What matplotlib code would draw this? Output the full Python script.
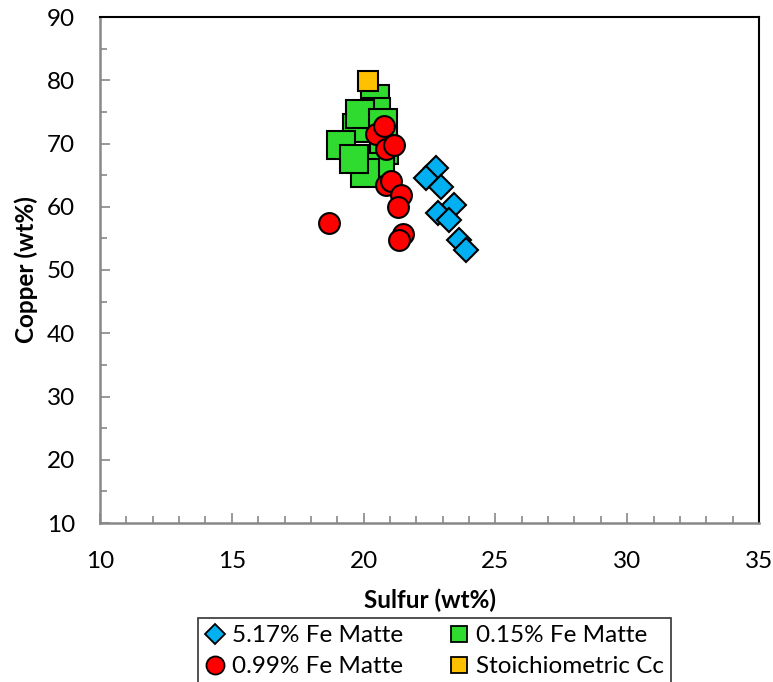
import matplotlib
matplotlib.use("Agg")
import matplotlib.pyplot as plt
from matplotlib.lines import Line2D
from matplotlib.ticker import MultipleLocator

plt.rcParams["font.family"] = ["Lato", "DejaVu Sans"]

# --- matte compositions (wt%) ---
s_517 = [22.75, 22.37, 22.94, 23.44, 22.81, 23.25, 23.63, 23.89]
cu_517 = [66.1, 64.5, 63.2, 60.3, 59.0, 57.9, 54.7, 53.2]

s_015 = [20.43, 20.46, 19.76, 19.86, 20.74, 20.77, 19.16, 20.62, 20.06, 19.65]
cu_015 = [77.1, 75.0, 72.4, 74.7, 73.2, 69.0, 69.8, 66.3, 65.3, 67.5]

s_099 = [20.46, 20.78, 20.84, 21.14, 20.84, 21.04, 21.42, 21.29, 18.69, 21.48, 21.36]
cu_099 = [71.5, 72.7, 69.2, 69.8, 63.4, 64.0, 61.9, 60.0, 57.4, 55.7, 54.7]

s_cc = [20.15]
cu_cc = [79.85]

labels = ["5.17% Fe Matte", "0.15% Fe Matte", "0.99% Fe Matte", "Stoichiometric Cc"]

fig = plt.figure(figsize=(7.73, 6.82), dpi=100)
ax = fig.add_axes([100 / 773, 1 - 523 / 682, 659 / 773, 506 / 682])

ax.plot(s_517, cu_517, "D", ms=12, mfc="#00B0F0", mec="black", mew=1.5, ls="none", zorder=3)
ax.plot(s_015, cu_015, "s", ms=20, mfc="#2EDB2E", mec="black", mew=1.5, ls="none", zorder=3)
ax.plot(s_099, cu_099, "o", ms=15, mfc="#FF0000", mec="black", mew=1.5, ls="none", zorder=4)
ax.plot(s_cc, cu_cc, "s", ms=15, mfc="#FFC000", mec="black", mew=1.5, ls="none", zorder=5)

ax.set_xlim(10, 35)
ax.set_ylim(10, 90)
ax.xaxis.set_major_locator(MultipleLocator(5))
ax.xaxis.set_minor_locator(MultipleLocator(1))
ax.yaxis.set_major_locator(MultipleLocator(10))
ax.yaxis.set_minor_locator(MultipleLocator(5))
ax.tick_params(which="both", direction="in", color="#888888", width=1.2,
               top=False, right=False, labelsize=17.5)
ax.tick_params(axis="x", pad=20)
ax.tick_params(axis="y", pad=18)
ax.tick_params(which="major", length=7)
ax.tick_params(which="minor", length=5)

for side in ["left", "bottom"]:
    ax.spines[side].set_color("#888888")
    ax.spines[side].set_linewidth(1.8)
for side in ["top", "right"]:
    ax.spines[side].set_color("black")
    ax.spines[side].set_linewidth(1.5)

ax.set_xlabel("Sulfur (wt%)", fontsize=17.5, fontweight="bold", labelpad=12)
ax.set_ylabel("Copper (wt%)", fontsize=17.5, fontweight="bold", labelpad=6)

handles = [
    Line2D([], [], marker="D", ls="none", ms=10, mfc="#00B0F0", mec="black", mew=1.3),
    Line2D([], [], marker="s", ls="none", ms=12, mfc="#2EDB2E", mec="black", mew=1.3),
    Line2D([], [], marker="o", ls="none", ms=13, mfc="#FF0000", mec="black", mew=1.3),
    Line2D([], [], marker="s", ls="none", ms=12, mfc="#FFC000", mec="black", mew=1.3),
]
# legend fills column-wise, so interleave to read row-wise
order = [0, 2, 1, 3]
leg = fig.legend([handles[i] for i in order], [labels[i] for i in order], ncol=2,
                 loc="upper left", bbox_to_anchor=(198 / 773, 1 - 618 / 682),
                 fontsize=17.5, frameon=True, fancybox=False, edgecolor="black",
                 handlelength=0.8, handletextpad=0.3, columnspacing=1.9,
                 borderpad=0.3, labelspacing=0.4, borderaxespad=0)
leg.get_frame().set_linewidth(1.2)

fig.savefig("out.png", dpi=100)
